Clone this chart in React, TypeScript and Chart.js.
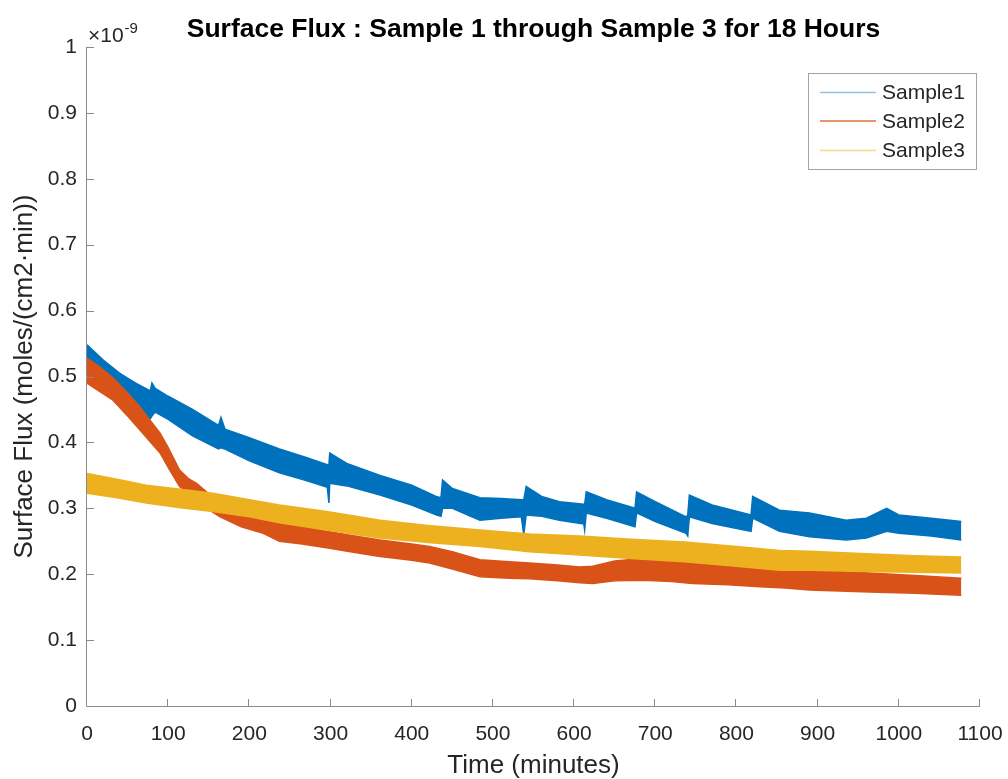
import React, { useEffect, useRef } from 'react';
import { Chart, registerables } from 'chart.js';

Chart.register(...registerables);

// ---- Data (values in units of 1e-9 moles/(cm2·min)); upper/lower edges of each noisy trace ----
const s1Time = [0, 20, 40, 60, 78, 80, 84, 100, 130, 162, 165, 170, 200, 237, 270, 296, 298, 299, 320, 361, 400, 430, 436, 438, 450, 484, 510, 535, 538, 541, 560, 582, 612, 613, 615, 640, 675, 677, 700, 738, 740, 742, 770, 818, 820, 853, 890, 935, 960, 985, 1000, 1040, 1077];
const s1Upper = [0.548, 0.525, 0.505, 0.49, 0.478, 0.49, 0.482, 0.47, 0.45, 0.426, 0.438, 0.42, 0.407, 0.39, 0.377, 0.366, 0.366, 0.384, 0.368, 0.35, 0.335, 0.318, 0.316, 0.343, 0.33, 0.316, 0.315, 0.313, 0.313, 0.333, 0.318, 0.31, 0.306, 0.306, 0.325, 0.313, 0.3, 0.325, 0.31, 0.287, 0.29, 0.32, 0.305, 0.29, 0.318, 0.297, 0.293, 0.282, 0.285, 0.3, 0.29, 0.285, 0.28];
const s1Lower = [0.505, 0.485, 0.465, 0.45, 0.436, 0.44, 0.446, 0.435, 0.41, 0.39, 0.392, 0.39, 0.372, 0.354, 0.342, 0.332, 0.308, 0.338, 0.334, 0.32, 0.305, 0.29, 0.288, 0.3, 0.3, 0.282, 0.285, 0.287, 0.26, 0.29, 0.288, 0.282, 0.276, 0.267, 0.293, 0.285, 0.272, 0.293, 0.28, 0.262, 0.258, 0.287, 0.277, 0.265, 0.285, 0.265, 0.257, 0.252, 0.255, 0.265, 0.262, 0.258, 0.252];

const s2Time = [0, 15, 32, 50, 65, 80, 90, 100, 114, 125, 135, 150, 164, 190, 217, 237, 265, 295, 330, 361, 400, 422, 450, 484, 520, 545, 580, 607, 623, 650, 685, 720, 746, 790, 829, 860, 890, 964, 1020, 1077];
const s2Upper = [0.528, 0.515, 0.498, 0.475, 0.454, 0.43, 0.414, 0.392, 0.358, 0.345, 0.338, 0.322, 0.308, 0.296, 0.287, 0.278, 0.272, 0.265, 0.258, 0.252, 0.246, 0.242, 0.234, 0.222, 0.219, 0.217, 0.214, 0.211, 0.212, 0.22, 0.224, 0.22, 0.217, 0.214, 0.211, 0.206, 0.206, 0.202, 0.198, 0.194];
const s2Lower = [0.49, 0.478, 0.464, 0.44, 0.419, 0.398, 0.384, 0.362, 0.333, 0.322, 0.313, 0.298, 0.287, 0.272, 0.262, 0.25, 0.246, 0.24, 0.233, 0.227, 0.221, 0.217, 0.208, 0.196, 0.194, 0.193, 0.19, 0.187, 0.186, 0.19, 0.191, 0.189, 0.186, 0.184, 0.181, 0.179, 0.176, 0.173, 0.171, 0.168];

const s3Time = [0, 37, 73, 115, 155, 200, 237, 295, 361, 420, 484, 545, 607, 670, 736, 800, 853, 890, 960, 1020, 1077];
const s3Upper = [0.353, 0.344, 0.335, 0.329, 0.323, 0.313, 0.305, 0.295, 0.282, 0.274, 0.267, 0.261, 0.258, 0.253, 0.249, 0.242, 0.236, 0.235, 0.231, 0.228, 0.226];
const s3Lower = [0.323, 0.316, 0.308, 0.301, 0.295, 0.287, 0.278, 0.267, 0.255, 0.248, 0.242, 0.234, 0.229, 0.224, 0.219, 0.212, 0.206, 0.206, 0.204, 0.203, 0.202];

const seriesNames = ['Sample1', 'Sample2', 'Sample3'];
const seriesColors = ['#0072BD', '#D95319', '#EDB120'];
const legendLineColors = ['#8fc3e6', '#e0703f', '#f5d68c'];

const xTicks = [0, 100, 200, 300, 400, 500, 600, 700, 800, 900, 1000, 1100];
const yTicks = [0, 0.1, 0.2, 0.3, 0.4, 0.5, 0.6, 0.7, 0.8, 0.9, 1];

const titleText = 'Surface Flux : Sample 1 through Sample 3 for 18 Hours';
const xTitle = 'Time (minutes)';
const yTitle = 'Surface Flux (moles/(cm2\u00B7min))';

const FONT = '"Liberation Sans", Arial, Helvetica, sans-serif';
const AXIS_COLOR = '#8a8a8a';
const TEXT_COLOR = '#262626';

const pts = (t: number[], v: number[]) => t.map((x, i) => ({ x, y: v[i] }));

const decorPlugin = {
  id: 'decor',
  afterDraw(chart: any) {
    const ctx = chart.ctx as CanvasRenderingContext2D;
    const { left, right, top, bottom } = chart.chartArea;
    const xs = chart.scales.x;
    const ys = chart.scales.y;
    ctx.save();
    // axes lines
    ctx.strokeStyle = AXIS_COLOR;
    ctx.lineWidth = 1;
    ctx.beginPath();
    ctx.moveTo(left - 0.5, top);
    ctx.lineTo(left - 0.5, bottom + 0.5);
    ctx.lineTo(right, bottom + 0.5);
    ctx.stroke();
    // inward ticks
    ctx.beginPath();
    xTicks.forEach((v) => {
      const px = Math.round(xs.getPixelForValue(v)) - 0.5;
      ctx.moveTo(px, bottom);
      ctx.lineTo(px, bottom - 7);
    });
    yTicks.forEach((v) => {
      const py = Math.round(ys.getPixelForValue(v)) + 0.5;
      ctx.moveTo(left, py);
      ctx.lineTo(left + 7, py);
    });
    ctx.stroke();

    // title
    ctx.fillStyle = '#000';
    ctx.font = `bold 26.5px ${FONT}`;
    ctx.textAlign = 'center';
    ctx.textBaseline = 'alphabetic';
    ctx.fillText(titleText, (left + right) / 2, 37);

    // exponent
    ctx.fillStyle = TEXT_COLOR;
    ctx.textAlign = 'left';
    ctx.font = `21px ${FONT}`;
    ctx.fillText('\u00D710', left + 1, 42);
    const w = ctx.measureText('\u00D710').width;
    ctx.font = `15px ${FONT}`;
    ctx.fillText('-9', left + 1 + w + 1, 33);

    // axis titles
    ctx.font = `26px ${FONT}`;
    ctx.textAlign = 'center';
    ctx.fillText(xTitle, (left + right) / 2, 773);
    ctx.save();
    ctx.translate(32, (top + bottom) / 2);
    ctx.rotate(-Math.PI / 2);
    ctx.fillText(yTitle, 0, 0);
    ctx.restore();

    // legend
    const bx = 808, by = 73, bw = 168, bh = 96;
    ctx.fillStyle = '#ffffff';
    ctx.fillRect(bx, by, bw, bh);
    ctx.strokeStyle = '#a3a3a3';
    ctx.lineWidth = 1;
    ctx.strokeRect(bx + 0.5, by + 0.5, bw, bh);
    const rowY = [92.5, 121, 150.5];
    seriesNames.forEach((name, i) => {
      ctx.strokeStyle = legendLineColors[i];
      ctx.lineWidth = 1.5;
      ctx.beginPath();
      ctx.moveTo(820, rowY[i]);
      ctx.lineTo(876, rowY[i]);
      ctx.stroke();
      ctx.fillStyle = TEXT_COLOR;
      ctx.font = `21px ${FONT}`;
      ctx.textAlign = 'left';
      ctx.textBaseline = 'middle';
      ctx.fillText(name, 882, rowY[i] + 1);
    });
    ctx.restore();
  },
};

export default function App() {
  const ref = useRef<HTMLCanvasElement | null>(null);
  useEffect(() => {
    if (!ref.current) return;
    const band = (t: number[], hi: number[], lo: number[], idx: number) => {
      const c = seriesColors[idx];
      const order = 3 - idx;
      return [
        { label: seriesNames[idx], data: pts(t, hi), borderColor: c, backgroundColor: c, borderWidth: 1.5, pointRadius: 0, fill: '+1', tension: 0, order },
        { label: seriesNames[idx] + ' lower', data: pts(t, lo), borderColor: c, backgroundColor: c, borderWidth: 1.5, pointRadius: 0, fill: false, tension: 0, order },
      ];
    };
    const chart = new Chart(ref.current, {
      type: 'line',
      data: {
        datasets: [
          ...band(s1Time, s1Upper, s1Lower, 0),
          ...band(s2Time, s2Upper, s2Lower, 1),
          ...band(s3Time, s3Upper, s3Lower, 2),
        ] as any,
      },
      options: {
        animation: false,
        responsive: false,
        devicePixelRatio: 1,
        layout: { padding: { left: 0, right: 28, top: 47, bottom: 0 } },
        plugins: { legend: { display: false }, title: { display: false }, tooltip: { enabled: false } },
        scales: {
          x: {
            type: 'linear',
            min: 0,
            max: 1100,
            grid: { display: false, drawTicks: false },
            border: { display: false },
            ticks: {
              stepSize: 100, color: TEXT_COLOR, font: { size: 21, family: FONT }, padding: 16, maxRotation: 0, autoSkip: false,
              callback: (v: any) => String(Math.round(Number(v))),
            },
            afterFit: (s: any) => { s.height = 73; s.paddingLeft = 0; s.paddingRight = 0; },
          },
          y: {
            type: 'linear',
            min: 0,
            max: 1,
            grid: { display: false, drawTicks: false },
            border: { display: false },
            ticks: {
              stepSize: 0.1, color: TEXT_COLOR, font: { size: 21, family: FONT }, padding: 10,
              callback: (v: any) => String(Number(Number(v).toFixed(1))),
            },
            afterFit: (s: any) => { s.width = 87; s.paddingTop = 0; s.paddingBottom = 0; },
          },
        },
      } as any,
      plugins: [decorPlugin],
    });
    return () => chart.destroy();
  }, []);
  return (
    <div style={{ position: 'absolute', left: 0, top: 0, width: 1008, height: 779, background: '#fff' }}>
      <canvas ref={ref} width={1008} height={779} style={{ width: 1008, height: 779 }} />
    </div>
  );
}
